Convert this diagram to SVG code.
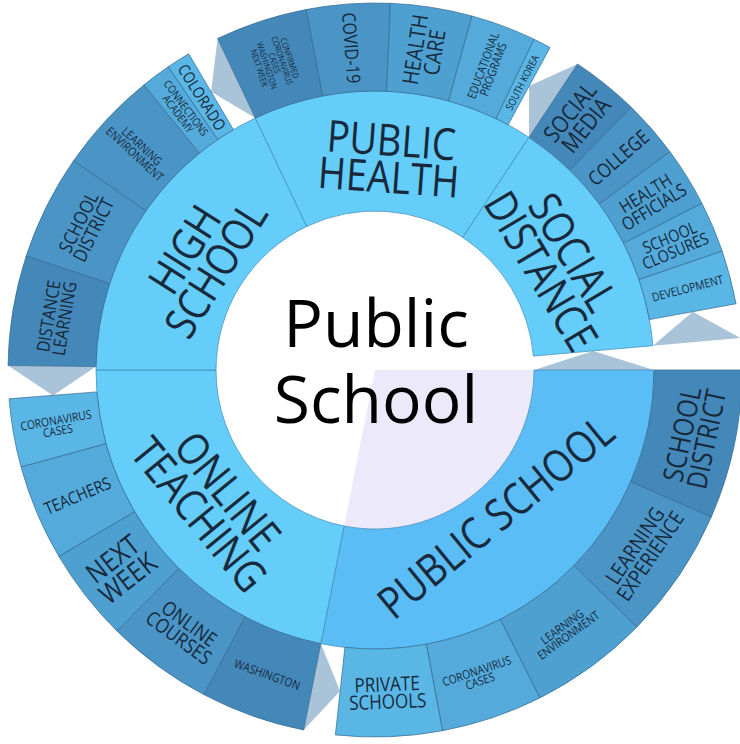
<svg xmlns="http://www.w3.org/2000/svg" width="740" height="744" viewBox="0 0 740 744">
<style>
.mid{fill:#64cdf9;stroke:#3f88b5;stroke-width:.7}
.midps{fill:#5bbdf6;stroke:#3f88b5;stroke-width:.7}
.o{stroke:#35688f;stroke-width:.7}
.c1{fill:#4488ba}.c2{fill:#4a95c6}.c3{fill:#4ea0d1}.c4{fill:#54abdb}.c5{fill:#5ab6e5}
.fold{fill:#a9c3d8}
.lbl{font-family:"Open Sans","Noto Sans",sans-serif;fill:#17293b;text-anchor:middle}
.big{font-size:44px}
.ctr{font-family:"Open Sans","Noto Sans",sans-serif;font-size:66px;fill:#000;text-anchor:middle}
</style>
<rect width="740" height="744" fill="#fff"/>
<g id="folds">
<polygon class="fold" points="96,366.6 8,365.5 53,395.4"/>
<polygon class="fold" points="320.8,643.7 303.7,730 340.1,691.1"/>
<polygon class="fold" points="255.3,118 217.6,38.5 211.1,91.7"/>
<polygon class="fold" points="529,137.3 577.5,64 529.1,86.1"/>
<polygon class="fold" points="652.9,345.7 740.6,338 692.7,311.7"/>
<polygon class="fold" points="534,370 654,370 593.2,350.9"/>
</g>
<g id="center">
<circle cx="375" cy="370" r="159" fill="#fff"/>
<path d="M375,370 L534,370 A159,159 0 0 1 344.1,526 Z" fill="#ece9fb"/>
<text class="ctr" x="376" y="347">Public</text>
<text class="ctr" x="376" y="423">School</text>
</g>
<g id="public-school">
<path class="midps" d="M534,370 L654,370 A279,279 0 0 1 320.8,643.7 L344.1,526 A159,159 0 0 0 534,370Z"/>
<text class="lbl big" transform="translate(495.6,516.8) rotate(-39.4) scale(0.86,1)" y="15.8">PUBLIC SCHOOL</text>
</g>
<g id="online-teaching">
<path class="mid" d="M344.1,526 L320.8,643.7 A279,279 0 0 1 96,370 L216,370 A159,159 0 0 0 344.1,526Z"/>
<text class="lbl big" transform="translate(213.5,502.7) rotate(50.6) scale(0.86,1)"><tspan x="0" y="-2.7">ONLINE</tspan><tspan x="0" y="34.3">TEACHING</tspan></text>
</g>
<g id="high-school">
<path class="mid" d="M216,370 L96,370 A279,279 0 0 1 255.3,118 L306.8,226.4 A159,159 0 0 0 216,370Z"/>
<text class="lbl big" transform="translate(200,259.4) rotate(-57.7) scale(0.86,1)"><tspan x="0" y="-2.7">HIGH</tspan><tspan x="0" y="34.3">SCHOOL</tspan></text>
</g>
<g id="public-health">
<path class="mid" d="M306.8,226.4 L255.3,118 A279,279 0 0 1 529,137.3 L462.8,237.4 A159,159 0 0 0 306.8,226.4Z"/>
<text class="lbl big" transform="translate(390,158.5) rotate(4.05) scale(0.86,1)"><tspan x="0" y="-2.7">PUBLIC</tspan><tspan x="0" y="34.3">HEALTH</tspan></text>
</g>
<g id="social-distance">
<path class="mid" d="M462.8,237.4 L529,137.3 A279,279 0 0 1 652.9,345.7 L533.4,356.1 A159,159 0 0 0 462.8,237.4Z"/>
<text class="lbl big" transform="translate(557.2,261.6) rotate(59.25) scale(0.86,1)"><tspan x="0" y="-2.7">SOCIAL</tspan><tspan x="0" y="34.3">DISTANCE</tspan></text>
</g>
<g id="hs-distance-learning">
<path class="o c1" d="M96,366.6 L8,365.5 A367,367 0 0 1 26.2,256 L109.8,283.3 A279,279 0 0 0 96,366.6Z"/>
<text class="lbl" font-size="18" transform="translate(56.3,317.3) rotate(-80.6) scale(0.86,1)"><tspan x="0" y="-1.5">DISTANCE</tspan><tspan x="0" y="14.5">LEARNING</tspan></text>
</g>
<g id="hs-school-district">
<path class="o c2" d="M109.8,283.3 L26.2,256 A367,367 0 0 1 73.7,160.6 L145.9,210.8 A279,279 0 0 0 109.8,283.3Z"/>
<text class="lbl" font-size="19" transform="translate(85.9,226.1) rotate(-63.55) scale(0.86,1)"><tspan x="0" y="-1.5">SCHOOL</tspan><tspan x="0" y="15.2">DISTRICT</tspan></text>
</g>
<g id="hs-learning-environment">
<path class="o c2" d="M145.9,210.8 L73.7,160.6 A367,367 0 0 1 144,84.8 L199.4,153.2 A279,279 0 0 0 145.9,210.8Z"/>
<text class="lbl" font-size="12" transform="translate(138.4,150.1) rotate(42.9) scale(0.86,1)"><tspan x="0" y="-1">LEARNING</tspan><tspan x="0" y="9.6">ENVIRONMENT</tspan></text>
</g>
<g id="hs-connections-academy">
<path class="o c4" d="M199.4,153.2 L144,84.8 A367,367 0 0 1 168.2,66.8 L217.8,139.5 A279,279 0 0 0 199.4,153.2Z"/>
<text class="lbl" font-size="11" transform="translate(182.2,110.9) rotate(53.35) scale(0.86,1)"><tspan x="0" y="-0.85">CONNECTIONS</tspan><tspan x="0" y="8.85">ACADEMY</tspan></text>
</g>
<g id="hs-colorado">
<path class="o c5" d="M217.8,139.5 L168.2,66.8 A367,367 0 0 1 188.7,53.8 L233.4,129.6 A279,279 0 0 0 217.8,139.5Z"/>
<text class="lbl" font-size="16" transform="translate(201.9,97.3) rotate(57.6) scale(0.86,1)" y="5.8">COLORADO</text>
</g>
<g id="ph-confirmed">
<path class="o c1" d="M255.3,118 L217.6,38.5 A367,367 0 0 1 306.2,9.5 L322.7,95.9 A279,279 0 0 0 255.3,118Z"/>
<text class="lbl" font-size="8.5" transform="translate(274.6,63) rotate(71.9) scale(0.86,1)"><tspan x="0" y="-12.9">CONFIRMED</tspan><tspan x="0" y="-4.9">CORONAVIRUS</tspan><tspan x="0" y="3.1">CASES</tspan><tspan x="0" y="11.1">WASHINGTON</tspan><tspan x="0" y="19.1">NEXT WEEK</tspan></text>
</g>
<g id="ph-covid">
<path class="o c2" d="M322.7,95.9 L306.2,9.5 A367,367 0 0 1 390.4,3.3 L386.7,91.3 A279,279 0 0 0 322.7,95.9Z"/>
<text class="lbl" font-size="18.5" transform="translate(351.4,47.9) rotate(85.8) scale(0.86,1)" y="6.7">COVID-19</text>
</g>
<g id="ph-health-care">
<path class="o c3" d="M386.7,91.3 L390.4,3.3 A367,367 0 0 1 471.9,16 L448.6,100.9 A279,279 0 0 0 386.7,91.3Z"/>
<text class="lbl" font-size="22" transform="translate(424.7,50.8) rotate(-81.15) scale(0.86,1)"><tspan x="0" y="-1.8">HEALTH</tspan><tspan x="0" y="17.6">CARE</tspan></text>
</g>
<g id="ph-educational-programs">
<path class="o c4" d="M448.6,100.9 L471.9,16 A367,367 0 0 1 534.2,39.3 L496,118.6 A279,279 0 0 0 448.6,100.9Z"/>
<text class="lbl" font-size="12" transform="translate(488.1,67.4) rotate(-69.5) scale(0.86,1)"><tspan x="0" y="-1">EDUCATIONAL</tspan><tspan x="0" y="9.6">PROGRAMS</tspan></text>
</g>
<g id="ph-south-korea">
<path class="o c5" d="M496,118.6 L534.2,39.3 A367,367 0 0 1 550.1,47.5 L508.1,124.8 A279,279 0 0 0 496,118.6Z"/>
<text class="lbl" font-size="10.3" transform="translate(522.2,82.5) rotate(-62.9) scale(0.86,1)" y="3.7">SOUTH KOREA</text>
</g>
<g id="sd-social-media">
<path class="o c1" d="M529,137.3 L577.5,64 A367,367 0 0 1 631.3,107.3 L569.9,170.3 A279,279 0 0 0 529,137.3Z"/>
<text class="lbl" font-size="23.5" transform="translate(577.8,118.6) rotate(-51.1) scale(0.86,1)"><tspan x="0" y="-1.9">SOCIAL</tspan><tspan x="0" y="18.8">MEDIA</tspan></text>
</g>
<g id="sd-college">
<path class="o c2" d="M569.9,170.3 L631.3,107.3 A367,367 0 0 1 670,151.7 L599.3,204 A279,279 0 0 0 569.9,170.3Z"/>
<text class="lbl" font-size="19.8" transform="translate(618.4,157.7) rotate(-41.1) scale(0.86,1)" y="7.1">COLLEGE</text>
</g>
<g id="sd-health-officials">
<path class="o c3" d="M599.3,204 L670,151.7 A367,367 0 0 1 702,203.4 L623.6,243.3 A279,279 0 0 0 599.3,204Z"/>
<text class="lbl" font-size="18" transform="translate(649.7,200) rotate(-31.75) scale(0.86,1)"><tspan x="0" y="-1.5">HEALTH</tspan><tspan x="0" y="14.5">OFFICIALS</tspan></text>
</g>
<g id="sd-school-closures">
<path class="o c4" d="M623.6,243.3 L702,203.4 A367,367 0 0 1 722.2,251.1 L639,279.6 A279,279 0 0 0 623.6,243.3Z"/>
<text class="lbl" font-size="16.6" transform="translate(672.5,244.1) rotate(-22.95) scale(0.86,1)"><tspan x="0" y="-1.3">SCHOOL</tspan><tspan x="0" y="13.3">CLOSURES</tspan></text>
</g>
<g id="sd-development">
<path class="o c5" d="M639,279.6 L722.2,251.1 A367,367 0 0 1 736,303.8 L649.4,319.6 A279,279 0 0 0 639,279.6Z"/>
<text class="lbl" font-size="12" transform="translate(687.5,288.3) rotate(-14.65) scale(0.86,1)" y="4.3">DEVELOPMENT</text>
</g>
<g id="ps-school-district">
<path class="o c1" d="M654,370 L742,370 A367,367 0 0 1 711.3,516.9 L630.7,481.7 A279,279 0 0 0 654,370Z"/>
<text class="lbl" font-size="28" transform="translate(694,436.7) rotate(-78.2) scale(0.86,1)"><tspan x="0" y="-2.2">SCHOOL</tspan><tspan x="0" y="22.4">DISTRICT</tspan></text>
</g>
<g id="ps-learning-experience">
<path class="o c2" d="M630.7,481.7 L711.3,516.9 A367,367 0 0 1 636.8,627.2 L574,565.6 A279,279 0 0 0 630.7,481.7Z"/>
<text class="lbl" font-size="21" transform="translate(642.6,550.8) rotate(-55.95) scale(0.86,1)"><tspan x="0" y="-1.7">LEARNING</tspan><tspan x="0" y="16.8">EXPERIENCE</tspan></text>
</g>
<g id="ps-learning-environment">
<path class="o c3" d="M574,565.6 L636.8,627.2 A367,367 0 0 1 539.9,697.9 L500.4,619.3 A279,279 0 0 0 574,565.6Z"/>
<text class="lbl" font-size="12" transform="translate(565.3,631) rotate(-36.1) scale(0.86,1)"><tspan x="0" y="-1">LEARNING</tspan><tspan x="0" y="9.6">ENVIRONMENT</tspan></text>
</g>
<g id="ps-coronavirus-cases">
<path class="o c4" d="M500.4,619.3 L539.9,697.9 A367,367 0 0 1 442.5,730.7 L426.3,644.2 A279,279 0 0 0 500.4,619.3Z"/>
<text class="lbl" font-size="12" transform="translate(478.3,676) rotate(-18.65) scale(0.86,1)"><tspan x="0" y="-1">CORONAVIRUS</tspan><tspan x="0" y="9.6">CASES</tspan></text>
</g>
<g id="ps-private-schools">
<path class="o c5" d="M426.3,644.2 L442.5,730.7 A367,367 0 0 1 335.4,734.9 L344.9,647.4 A279,279 0 0 0 426.3,644.2Z"/>
<text class="lbl" font-size="19.8" transform="translate(387.4,692.8) rotate(-2.2) scale(0.86,1)"><tspan x="0" y="-1.6">PRIVATE</tspan><tspan x="0" y="15.8">SCHOOLS</tspan></text>
</g>
<g id="ot-washington">
<path class="o c1" d="M320.8,643.7 L303.7,730 A367,367 0 0 1 203.8,694.6 L244.9,616.8 A279,279 0 0 0 320.8,643.7Z"/>
<text class="lbl" font-size="12" transform="translate(267.2,674.5) rotate(19.5) scale(0.86,1)" y="4.3">WASHINGTON</text>
</g>
<g id="ot-online-courses">
<path class="o c2" d="M244.9,616.8 L203.8,694.6 A367,367 0 0 1 116.9,630.9 L178.8,568.3 A279,279 0 0 0 244.9,616.8Z"/>
<text class="lbl" font-size="20" transform="translate(184,630.5) rotate(36.25) scale(0.86,1)"><tspan x="0" y="-1.6">ONLINE</tspan><tspan x="0" y="16">COURSES</tspan></text>
</g>
<g id="ot-next-week">
<path class="o c3" d="M178.8,568.3 L116.9,630.9 A367,367 0 0 1 58.8,556.3 L134.6,511.6 A279,279 0 0 0 178.8,568.3Z"/>
<text class="lbl" font-size="28" transform="translate(120.1,568.4) rotate(-37.9) scale(0.86,1)"><tspan x="0" y="-2.2">NEXT</tspan><tspan x="0" y="22.4">WEEK</tspan></text>
</g>
<g id="ot-teachers">
<path class="o c4" d="M134.6,511.6 L58.8,556.3 A367,367 0 0 1 21,466.9 L105.9,443.6 A279,279 0 0 0 134.6,511.6Z"/>
<text class="lbl" font-size="17" transform="translate(77.5,495.7) rotate(-22.9) scale(0.86,1)" y="6.1">TEACHERS</text>
</g>
<g id="ot-coronavirus-cases">
<path class="o c5" d="M105.9,443.6 L21,466.9 A367,367 0 0 1 9.1,398.8 L96.9,391.9 A279,279 0 0 0 105.9,443.6Z"/>
<text class="lbl" font-size="12" transform="translate(56.8,425.5) rotate(-9.9) scale(0.86,1)"><tspan x="0" y="-1">CORONAVIRUS</tspan><tspan x="0" y="9.6">CASES</tspan></text>
</g>
</svg>
